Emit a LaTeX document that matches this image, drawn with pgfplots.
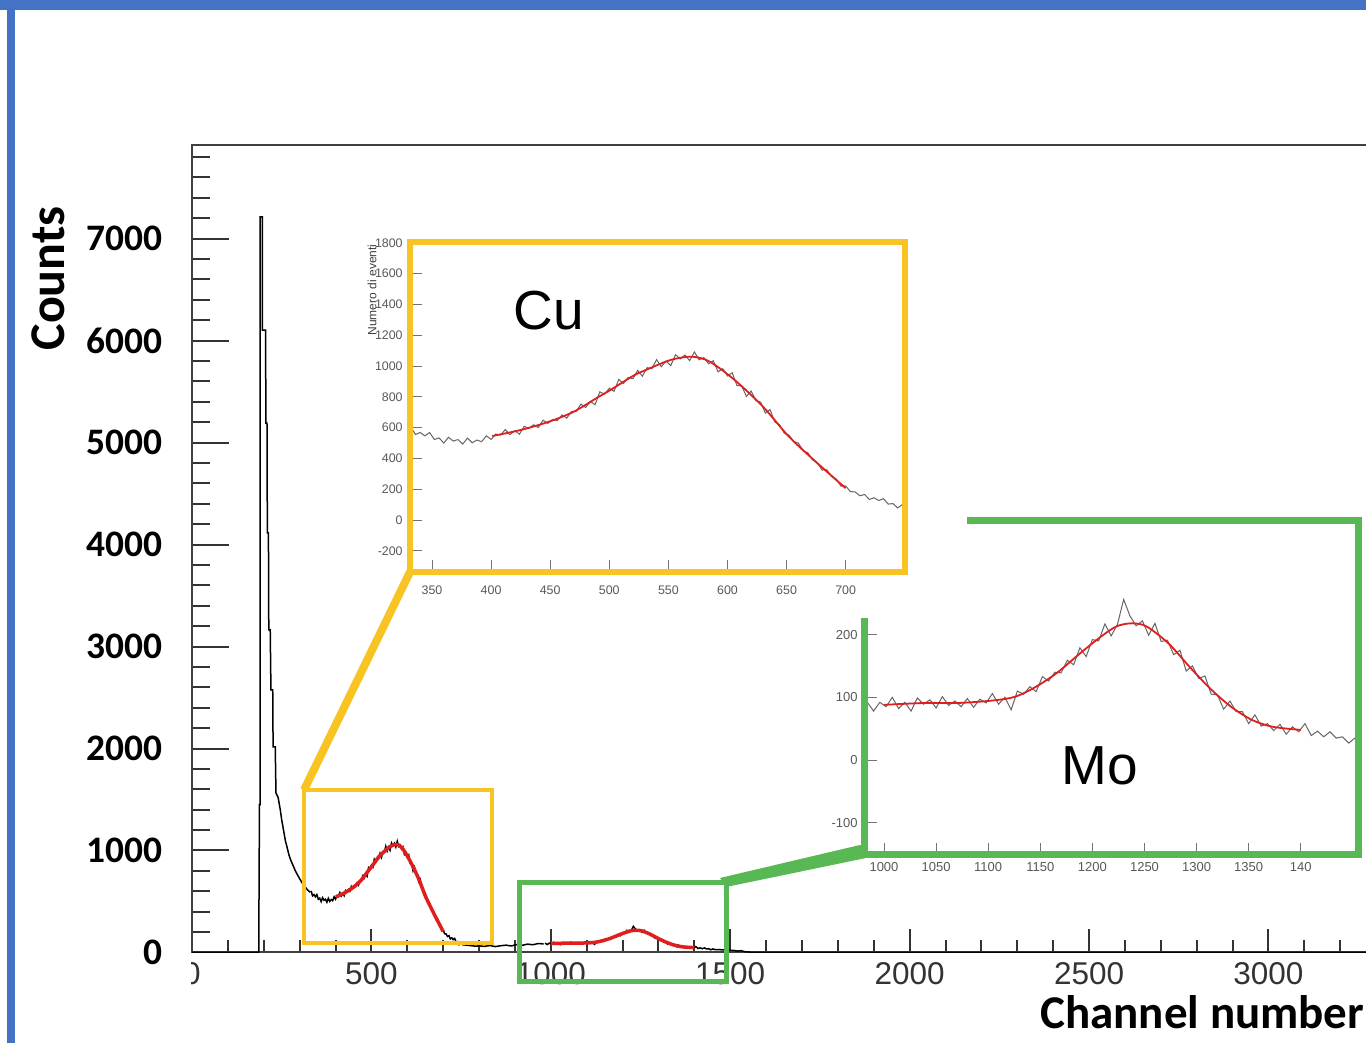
\documentclass[border=0pt]{standalone}
\usepackage{fontspec}
\usepackage{pgfplots}
\usepackage{pgfplotstable}
\pgfplotsset{compat=1.18}
\setmainfont{Liberation Sans}
\newfontfamily\arial{Liberation Sans}
\newfontfamily\calibri{Carlito}
\definecolor{slideblue}{RGB}{68,114,196}
\definecolor{cuyellow}{RGB}{247,196,36}
\definecolor{mogreen}{RGB}{88,184,84}
\definecolor{fitred}{RGB}{224,30,30}

\pgfplotstableread{
ch c
0 0
186 0
188 1450
190 1450
190 7211
196 7211
196 6103
205 6103
206 5191
209 5191
210 4113
213 4113
214 3162
218 3162
220 2574
225 2574
226 2015
232 2015
234 1564
240 1520
246 1400
250 1300
255 1201
260 1100
265 1030
270 960
275 907
282 850
288 800
295 755
302 711
309 670
316 640
323 610
330 590
}\lowdata

\pgfplotstableread{
ch c
332 604
336 555
340 568
344 546
348 568
352 522
356 533
360 499
364 537
368 512
372 522
376 493
380 531
384 501
388 519
392 508
396 546
400 523
404 558
408 551
412 587
416 554
420 579
424 557
428 608
432 595
436 618
440 600
444 648
448 627
452 652
456 645
460 682
464 661
468 704
472 705
476 752
480 730
484 770
488 748
492 832
496 817
500 855
504 835
508 913
512 886
516 926
520 917
524 971
528 933
532 989
536 982
540 1041
544 995
548 1032
552 1002
556 1073
560 1046
564 1071
568 1034
572 1091
576 1040
580 1054
584 1014
588 1034
592 962
596 982
600 935
604 956
608 873
612 871
616 802
620 837
624 775
628 766
632 694
636 717
640 636
644 619
648 564
652 551
656 509
660 499
664 449
668 436
672 390
676 371
680 324
684 326
688 282
692 266
696 220
700 221
704 184
708 182
712 157
716 165
720 133
724 144
728 126
732 138
736 103
740 106
744 78
748 100
752 77
}\cublack

\pgfplotstableread{
ch c
401 545
425 584
449 638
470 703
490 795
501 844
520 935
531 974
552 1039
570 1060
585 1028
606 909
630 736
652 541
676 369
700 206
}\cured

\pgfplotstableread{
ch c
752 77
760 74
770 70
780 66
790 62
800 65
815 60
830 68
845 58
860 66
875 72
890 64
905 78
920 70
935 82
950 76
965 88
980 84
}\middata

\pgfplotstableread{
ch c
984 92
990 78
996 92
1002 85
1008 100
1014 82
1020 92
1026 78
1032 99
1038 89
1044 96
1050 83
1056 101
1062 87
1068 94
1074 85
1080 98
1086 84
1092 97
1098 91
1104 106
1110 89
1116 100
1122 80
1128 110
1134 105
1140 117
1146 109
1152 133
1158 126
1164 140
1170 139
1176 159
1182 152
1188 179
1194 165
1200 192
1206 190
1212 217
1218 198
1224 216
1230 256
1236 230
1242 214
1248 222
1254 199
1260 218
1266 189
1272 191
1278 168
1284 175
1290 142
1296 150
1302 130
1308 134
1314 105
1320 104
1326 81
1332 94
1338 77
1344 77
1350 58
1356 72
1362 54
1368 58
1374 47
1380 57
1386 41
1392 53
1398 45
1404 58
1410 39
1416 46
1422 37
1428 45
1434 35
1440 37
1446 27
1452 35
1458 27
}\moblack

\pgfplotstableread{
ch c
1000 88
1040 91
1072 91
1105 95
1126 101
1146 117
1166 139
1186 167
1206 194
1223 213
1238 218
1252 213
1273 186
1293 149
1313 114
1333 85
1353 64
1373 53
1400 48
}\mored

\pgfplotstableread{
ch c
1458 27
1470 28
1480 25
1490 35
1500 22
1510 20
1520 14
1530 18
1540 8
1550 5
1558 2
1565 0
3400 0
}\taildata

\begin{document}
\begin{tikzpicture}[x=0.5pt,y=0.5pt]
\useasboundingbox (0,0) rectangle (1366,1043);
\fill[white] (0,0) rectangle (1366,1043);

% main axis: y ticks
\begin{axis}[
  at={(96pt,45.25pt)}, anchor=south west, scale only axis,
  width=610pt, height=403.75pt,
  xmin=0, xmax=3400, ymin=0, ymax=7917,
  xtick=\empty,
  ytick={0,1000,...,7000},
  minor ytick={200,400,...,7800},
  tick pos=left, tick align=inside,
  major tick length=18.5pt, minor tick length=9pt,
  tick style={line width=1pt, black!80},
  axis line style={line width=1pt, black!75},
  /pgf/number format/assume math mode=true,
  /pgf/number format/1000 sep={},
  yticklabel style={font=\calibri\bfseries\fontsize{18.7}{20}\selectfont, anchor=east, inner sep=0pt, xshift=-14.5pt},
]
\end{axis}

% main axis: x ticks and data
\begin{axis}[
  at={(96pt,45.25pt)}, anchor=south west, scale only axis,
  width=610pt, height=403.75pt,
  xmin=0, xmax=3400, ymin=0, ymax=7917,
  ytick=\empty,
  xtick={0,500,...,3000},
  minor xtick={100,200,...,3400},
  tick pos=left, tick align=inside,
  major tick length=11.5pt, minor tick length=6pt,
  tick style={line width=1pt, black!80},
  axis line style={line width=1pt, black!75},
  /pgf/number format/assume math mode=true,
  /pgf/number format/1000 sep={},
  xticklabel style={font=\arial\fontsize{15.75}{18}\selectfont, text=black!80, anchor=north, inner sep=0pt, yshift=-5pt},
]
\addplot[black, line width=0.75pt, no markers] table[x=ch,y=c] {\lowdata};
\addplot[black, line width=0.75pt, no markers] table[x=ch,y=c] {\cublack};
\addplot[black, line width=0.75pt, no markers] table[x=ch,y=c] {\middata};
\addplot[black, line width=0.75pt, no markers] table[x=ch,y=c] {\moblack};
\addplot[black, line width=0.75pt, no markers] table[x=ch,y=c] {\taildata};
\addplot[fitred, line width=1.75pt, no markers, smooth, tension=0.5] table[x=ch,y=c] {\cured};
\addplot[fitred, line width=1.75pt, no markers, smooth, tension=0.5] table[x=ch,y=c] {\mored};
\end{axis}

% Cu inset
\begin{axis}[
  at={(205pt,235.5pt)}, anchor=south west, scale only axis,
  width=247.5pt, height=165pt,
  xmin=331.4, xmax=750.2, ymin=-338, ymax=1805,
  xtick={350,400,...,700},
  ytick={-200,0,...,1800},
  tick pos=left, tick align=inside,
  major tick length=6pt,
  tick style={line width=0.4pt, black!55},
  axis line style={draw=none},
  /pgf/number format/assume math mode=true,
  /pgf/number format/1000 sep={},
  xticklabel style={font=\arial\fontsize{6.2}{7}\selectfont, text=black!65, anchor=north, inner sep=0pt, yshift=-6.7pt},
  yticklabel style={font=\arial\fontsize{6.2}{7}\selectfont, text=black!65, anchor=east, inner sep=0pt, xshift=-3.5pt},
]
\addplot[black!60, line width=0.5pt, no markers] table[x=ch,y=c] {\lowdata};
\addplot[black!60, line width=0.5pt, no markers] table[x=ch,y=c] {\cublack};
\addplot[fitred, line width=0.9pt, no markers, smooth, tension=0.5] table[x=ch,y=c] {\cured};
\end{axis}

% Mo inset
\begin{axis}[
  at={(432.25pt,94pt)}, anchor=south west, scale only axis,
  width=246.75pt, height=167pt,
  xmin=981.3, xmax=1454.9, ymin=-151.5, ymax=381.2,
  xtick={1000,1050,...,1400},
  xticklabels={1000,1050,1100,1150,1200,1250,1300,1350,140},
  ytick={-100,0,100,200},
  tick pos=left, tick align=inside,
  major tick length=6pt,
  tick style={line width=0.4pt, black!55},
  axis line style={draw=none},
  /pgf/number format/assume math mode=true,
  /pgf/number format/1000 sep={},
  xticklabel style={font=\arial\fontsize{6.5}{7}\selectfont, text=black!65, anchor=north, inner sep=0pt, yshift=-3.7pt},
  yticklabel style={font=\arial\fontsize{6.5}{7}\selectfont, text=black!65, anchor=east, inner sep=0pt, xshift=-3.25pt},
]
\addplot[black!60, line width=0.5pt, no markers] table[x=ch,y=c] {\middata};
\addplot[black!60, line width=0.5pt, no markers] table[x=ch,y=c] {\moblack};
\addplot[fitred, line width=0.9pt, no markers, smooth, tension=0.5] table[x=ch,y=c] {\mored};
\end{axis}

% slide frame
\fill[slideblue] (0,1033) rectangle (1366,1043);
\fill[slideblue] (7,0) rectangle (15,1043);

% hide left half of the x tick label 0
\fill[white] (168,48) rectangle (190.5,86);

% overlays
\draw[cuyellow, line width=3pt, line join=miter] (410,471) rectangle (905,801);
\draw[cuyellow, line width=2.25pt, line join=miter] (304,100) rectangle (492,253);
\draw[cuyellow, line width=4pt] (304,253) -- (410,471);
\draw[mogreen, line width=2.5pt, line join=miter] (519,61) rectangle (726.5,160.5);
\fill[mogreen] (720,165) -- (860,198) -- (866,194) -- (866,185) -- (726,156) -- cycle;
\draw[mogreen, line width=3.5pt, line join=miter, line cap=rect] (864.5,421) -- (864.5,188) -- (1358,188) -- (1358,522) -- (970,522);

% texts
\node[font=\arial\fontsize{27.5}{30}\selectfont, anchor=base, inner sep=0pt] at (549,713) {Cu};
\node[font=\arial\fontsize{27.5}{30}\selectfont, anchor=base, inner sep=0pt] at (1100,258) {Mo};
\node[rotate=90, font=\calibri\bfseries\fontsize{25}{28}\selectfont, inner sep=0pt] at (48.5,764.5) {Counts};
\node[anchor=base west, inner sep=0pt, font=\calibri\bfseries\fontsize{23.5}{26}\selectfont] at (1040,14) {Channel number};
\node[rotate=90, font=\arial\fontsize{6}{7}\selectfont, text=black!75, inner sep=0pt] at (372,753) {Numero di eventi};
\end{tikzpicture}
\end{document}
